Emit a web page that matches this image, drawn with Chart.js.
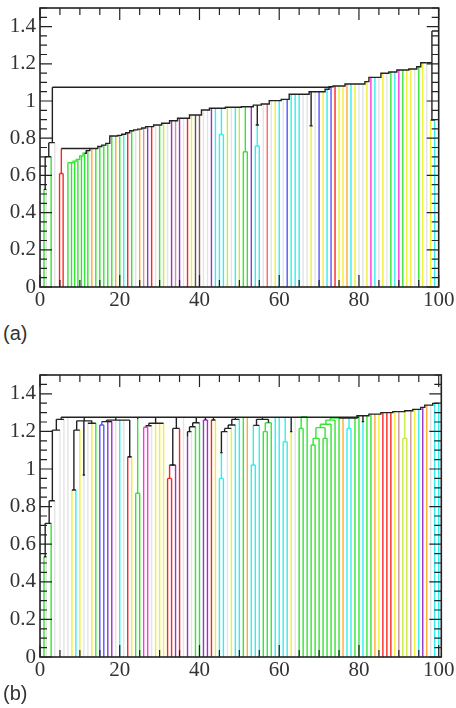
<!DOCTYPE html>
<html><head><meta charset="utf-8">
<script src="https://cdn.jsdelivr.net/npm/chart.js@4.4.0/dist/chart.umd.min.js"></script>
<style>
body{margin:0;background:#fff;width:456px;height:708px;overflow:hidden;position:relative;}
canvas{position:absolute;left:0;}
#ca{top:0;}
#cb{top:360px;}
.lab{position:absolute;left:3px;font-family:'Liberation Sans',Arial,sans-serif;font-size:20px;color:#333;line-height:23px;}
</style></head><body>
<canvas id="ca" width="456" height="322"></canvas>
<canvas id="cb" width="456" height="348"></canvas>
<div class="lab" style="top:322px">(a)</div>
<div class="lab" style="top:682px">(b)</div>
<script>
// ---------- shared axis data ----------
const xLabelVals = [0, 20, 40, 60, 80, 100];
const yLabelVals = [0, 0.2, 0.4, 0.6, 0.8, 1, 1.2, 1.4];

const PAL = {g:'#33e633', lg:'#e4e4e4', r:'#ff2424', sr:'#ff6666', o:'#ffaa33', c:'#33eeee',
  y:'#f0f032', yg:'#c8ec3c', p:'#9933cc', rb:'#cc9999', br:'#8a5a5a', dg:'#555555',
  b:'#5555ff', m:'#ff33dd', K:'#222222'};

// ---------- panel (a) ----------
const leafXA = [1,1.6,2.8,3.7,4.9,5.8,7,7.9,8.7,9.5,10.4,11.2,12,13,14,15,16,17,18,19,20,21,22,23,24,25,26,27,28,29,30,31,32,33,34,35,36,37,38,39,40,41,42,43,44,45,46,47,48,49,50,51,52,53,54,55,56,57,58,59,60,61,62,63,64,65,66,67,68,69,70,71,72,73,74,75,76,77,78,79,80,81,82,83,84,85,86,87,88,89,90,91,92,93,94,95,96,97,98,99];
const leafColorA = ['g','lg','g','lg','r','r','g','g','g','g','g','g','g',
 'o','g','g','g','g','g','o','g','c','r','g','lg','o','rb','p','r','lg','g','yg','lg','p','rb','p','lg','r','y','dg','br','lg','lg','p','c','c','c','yg','lg','c','yg','g','g','p','c','c','lg','sr','lg','y','c','lg','b','c','c','c','lg','lg','y','lg','b','y','c','b','r','y','y','o','c','y','lg','lg','y','m','c','lg','y','lg','g','c','m','g','y','y','lg','g','y','lg','y','c'];
const leafTopA = [0.525,0.525,0.70,0.776,0.61,0.61,0.668,0.668,0.677,0.686,0.704,0.719,0.733,
 0.745,0.745,0.755,0.763,0.772,0.812,0.812,0.815,0.821,0.829,0.84,0.845,0.849,0.855,0.862,0.862,0.871,0.871,0.88,0.88,0.894,0.894,0.907,0.907,0.907,0.925,0.925,0.925,0.952,0.952,0.961,0.961,0.82,0.82,0.966,0.966,0.966,0.966,0.727,0.727,0.969,0.758,0.758,0.984,0.984,1.002,1.002,1.002,1.009,1.009,1.036,1.036,1.036,1.036,1.036,0.866,1.05,1.05,1.05,1.063,1.077,1.081,1.081,1.081,1.091,1.091,1.091,1.091,1.091,1.104,1.127,1.127,1.127,1.149,1.149,1.156,1.156,1.167,1.167,1.167,1.172,1.172,1.184,1.206,1.206,0.898,0.898];
const stairXA = [7,7.9,8.7,9.5,10.4,11.2,12,13,14,15,16,17,18,19,20,21,22,23,24,25,26,27,28,29,30,31,32,33,34,35,36,37,38,39,40,41,42,43,44,45,46,47,48,49,50,51,52,53,54,55,56,57,58,59,60,61,62,63,64,65,66,67,68,69,70,71,72,73,74,75,76,77,78,79,80,81,82,83,84,85,86,87,88,89,90,91,92,93,94,95,96,97];
const stairYA = [0.668,0.668,0.677,0.686,0.704,0.719,0.733,0.745,0.745,0.755,0.763,0.772,0.812,0.812,0.815,0.821,0.829,0.84,0.845,0.849,0.855,0.862,0.862,0.871,0.871,0.88,0.88,0.894,0.894,0.907,0.907,0.907,0.925,0.925,0.925,0.952,0.952,0.961,0.961,0.961,0.961,0.966,0.966,0.966,0.966,0.969,0.969,0.969,0.978,0.978,0.984,0.984,1.002,1.002,1.002,1.009,1.009,1.036,1.036,1.036,1.036,1.036,1.05,1.05,1.05,1.05,1.063,1.077,1.081,1.081,1.081,1.091,1.091,1.091,1.091,1.091,1.104,1.127,1.127,1.127,1.149,1.149,1.156,1.156,1.167,1.167,1.167,1.172,1.172,1.184,1.206,1.206];
const stairGreenEndA = 11.2;
const linksA = [
 [1.0,0.525,1.6,0.525,'K'],[1.3,0.525,1.3,0.70,'K'],[1.3,0.70,2.8,0.70,'K'],
 [2.2,0.70,2.2,0.776,'K'],[2.2,0.776,3.7,0.776,'K'],[3.1,0.776,3.1,1.074,'K'],
 [3.1,1.074,73,1.074,'K'],
 [4.9,0.61,5.8,0.61,'r'],[5.35,0.61,5.35,0.745,'r'],[5.35,0.745,12.5,0.745,'K'],
 [45,0.82,46,0.82,'c'],[45.5,0.82,45.5,0.961,'c'],
 [51,0.727,52,0.727,'g'],[51.5,0.727,51.5,0.969,'g'],
 [54,0.758,55,0.758,'c'],[54.5,0.758,54.5,0.871,'c'],[54.5,0.871,54.5,0.978,'K'],[54.1,0.871,54.9,0.871,'K'],
 [68,0.866,68,1.05,'K'],[67.6,0.866,68.4,0.866,'K'],
 [97,1.206,98.3,1.206,'K'],[98,0.898,99,0.898,'K'],[98.3,0.898,98.3,1.376,'K'],[98.3,1.376,100,1.376,'K']
];

// ---------- panel (b) ----------
const leafXB = [1,1.6,2.8,3.7,5,6,7,8,9,10,11,12,13,14,15,16,17,18,19,20,21,22,23,24,25,26,27,28,29,30,31,32,33,34,35,36,37,38,39,40,41,42,43,44,45,46,47,48,49,50,51,52,53,54,55,56,57,58,59,60,61,62,63,64,65,66,67,68,69,70,71,72,73,74,75,76,77,78,79,80,81,82,83,84,85,86,87,88,89,90,91,92,93,94,95,96,97,98,99,100];
const leafColorB = ['g','lg','g','lg','lg','lg','lg','y','c','y','lg','lg','y','g','b','b','p','p','lg','c','lg','r','y','g','g','m','m','lg','y','y','y','r','r','p','r','lg','p','lg','g','g','p','p','r','y','c','c','lg','y','c','c','g','o','c','c','c','g','g','g','c','c','c','c','y','lg','g','g','g','g','g','g','g','g','g','g','g','o','c','c','g','g','c','g','g','o','y','r','r','r','y','rb','yg','yg','rb','y','c','p','o','lg','c','c'];
const leafTopB = [0.533,0.533,0.711,0.831,1.207,1.264,1.275,0.888,0.888,1.207,0.968,1.243,1.243,1.243,1.234,1.234,1.252,1.252,1.26,1.26,1.26,1.065,1.065,0.871,0.871,1.222,1.222,1.23,1.243,1.243,1.243,0.95,0.95,1.021,1.216,1.275,1.172,1.199,1.225,1.246,1.261,1.261,1.261,1.261,0.95,0.95,1.199,1.216,1.234,1.264,1.275,1.275,1.021,1.021,1.232,1.199,1.199,1.246,1.275,1.275,1.145,1.145,1.199,1.275,1.216,1.216,1.278,1.128,1.128,1.163,1.163,1.163,1.238,1.26,1.271,1.271,1.216,1.216,1.271,1.283,1.252,1.283,1.292,1.292,1.292,1.30,1.30,1.30,1.305,1.305,1.163,1.163,1.31,1.317,1.317,1.328,1.34,1.34,1.349,1.349];
const stairXB = [75,76,77,78,79,80,81,82,83,84,85,86,87,88,89,90,91,92,93,94,95,96,97,98,99,100];
const stairYB = [1.271,1.271,1.271,1.271,1.271,1.283,1.283,1.283,1.292,1.292,1.292,1.30,1.30,1.30,1.305,1.305,1.305,1.31,1.31,1.317,1.317,1.328,1.34,1.34,1.349,1.349];
const stairGreenEndB = 0;
const linksB = [
 [1.0,0.533,1.6,0.533,'K'],[1.3,0.533,1.3,0.711,'K'],[1.3,0.711,2.8,0.711,'K'],
 [2.3,0.711,2.3,0.831,'K'],[2.3,0.831,3.7,0.831,'K'],[3.1,0.831,3.1,1.207,'K'],
 [3.1,1.207,5,1.207,'K'],[4.1,1.207,4.1,1.264,'K'],[4.1,1.264,6,1.264,'K'],[5.3,1.264,5.3,1.275,'K'],
 [5.3,1.275,80,1.275,'K'],
 [8,0.888,9,0.888,'K'],[8.5,0.888,8.5,1.207,'K'],[8.5,1.207,10,1.207,'K'],[9.2,1.207,9.2,1.256,'K'],
 [11,0.968,11,1.256,'K'],[10.7,0.968,11.3,0.968,'K'],[12,1.243,14,1.243,'K'],[13,1.243,13,1.256,'K'],
 [9.2,1.256,13,1.256,'K'],[11.1,1.256,11.1,1.275,'K'],
 [15,1.234,16,1.234,'b'],[15.5,1.234,15.5,1.252,'b'],[17,1.252,18,1.252,'p'],[15.5,1.252,18,1.252,'K'],
 [16.7,1.252,16.7,1.26,'K'],[16.7,1.26,22.5,1.26,'K'],[19,1.26,19,1.275,'K'],
 [22,1.065,23,1.065,'K'],[22.5,1.065,22.5,1.26,'K'],[22.2,1.065,22.8,1.065,'K'],
 [24,0.871,25,0.871,'g'],[24.5,0.871,24.5,1.264,'g'],[24.5,1.264,24.5,1.275,'K'],
 [26,1.222,27,1.222,'m'],[26.5,1.222,26.5,1.23,'m'],[26.5,1.23,28,1.23,'K'],[27.3,1.23,27.3,1.243,'K'],
 [27.3,1.243,31,1.243,'K'],[29,1.243,29,1.275,'K'],
 [32,0.95,33,0.95,'r'],[32.5,0.95,32.5,1.021,'r'],[32.5,1.021,34,1.021,'K'],[33.3,1.021,33.3,1.216,'K'],
 [33,1.021,33.6,1.021,'K'],[33.3,1.216,35,1.216,'K'],[34.2,1.216,34.2,1.275,'K'],
 [37,1.172,37,1.199,'K'],[37,1.199,38,1.199,'K'],[37.5,1.199,37.5,1.225,'K'],[37.5,1.225,39,1.225,'K'],
 [38.3,1.225,38.3,1.246,'K'],[38.3,1.246,40,1.246,'K'],[39.2,1.246,39.2,1.275,'K'],
 [41,1.261,42,1.261,'p'],[41.5,1.261,41.5,1.275,'K'],
 [43,1.261,44,1.261,'K'],[43.5,1.261,43.5,1.275,'K'],
 [45,0.95,46,0.95,'c'],[45.5,0.95,45.5,1.087,'c'],[45.5,1.087,45.5,1.199,'K'],[45.2,1.087,45.8,1.087,'K'],
 [45.5,1.199,47,1.199,'K'],[46.3,1.199,46.3,1.216,'K'],[46.3,1.216,48,1.216,'K'],[47.2,1.216,47.2,1.234,'K'],
 [47.2,1.234,49,1.234,'K'],[48.1,1.234,48.1,1.264,'K'],[48.1,1.264,50,1.264,'K'],[49,1.264,49,1.275,'K'],
 [53,1.021,54,1.021,'c'],[53.5,1.021,53.5,1.232,'c'],[53.5,1.232,55,1.232,'K'],[54.3,1.232,54.3,1.264,'K'],
 [56,1.199,57,1.199,'g'],[56.5,1.199,56.5,1.246,'g'],[56.5,1.246,58,1.246,'g'],[57.3,1.246,57.3,1.264,'K'],
 [54.3,1.264,57.3,1.264,'K'],[55.8,1.264,55.8,1.275,'K'],
 [61,1.145,62,1.145,'c'],[61.5,1.145,61.5,1.275,'c'],
 [63,1.199,63,1.275,'K'],[62.7,1.199,63.3,1.199,'K'],
 [65,1.216,66,1.216,'g'],[65.5,1.216,65.5,1.278,'g'],[65.5,1.278,67,1.278,'g'],
 [68,1.128,69,1.128,'g'],[68.5,1.128,68.5,1.163,'g'],[68.5,1.163,70,1.163,'g'],[69.2,1.163,69.2,1.22,'g'],
 [71,1.163,72,1.163,'g'],[71.5,1.163,71.5,1.22,'g'],[69.2,1.22,71.5,1.22,'g'],[70.3,1.22,70.3,1.238,'g'],
 [70.3,1.238,73,1.238,'g'],[71.7,1.238,71.7,1.26,'g'],[71.7,1.26,74,1.26,'g'],[72.8,1.26,72.8,1.271,'g'],
 [72.8,1.271,75,1.271,'g'],
 [77,1.216,78,1.216,'c'],[77.5,1.216,77.5,1.271,'c'],
 [81,1.252,81,1.283,'K'],[80.7,1.252,81.3,1.252,'K'],
 [91,1.163,92,1.163,'yg'],[91.5,1.163,91.5,1.305,'yg']
];

// ---------- drawing ----------
const frameTicks = {
  id: 'frameTicks',
  afterDatasetsDraw(chart, args, opts) {
    const {ctx, chartArea: {left, right, top, bottom}, scales: {x, y}} = chart;
    ctx.save();
    ctx.strokeStyle = '#222';
    ctx.lineWidth = 1.2;
    ctx.beginPath();
    for (let k = 0; k <= 20; k++) {
      const p = x.getPixelForValue(k * 5);
      const L = (k % 4 === 0) ? 12 : 7;
      ctx.moveTo(p, bottom); ctx.lineTo(p, bottom - L);
      ctx.moveTo(p, top); ctx.lineTo(p, top + L);
    }
    for (let k = 0; k <= 30; k++) {
      const p = y.getPixelForValue(k * 0.05);
      const L = (k % 4 === 0) ? 12 : 7;
      ctx.moveTo(left, p); ctx.lineTo(left + L, p);
      ctx.moveTo(right, p); ctx.lineTo(right - L, p);
    }
    ctx.stroke();
    ctx.lineWidth = 1.6;
    ctx.strokeRect(left, top, right - left, bottom - top);
    ctx.restore();
  }
};

function build(id, cfg) {
  const ds = [];
  cfg.leafX.forEach((x, i) => {
    ds.push({data: [{x: x, y: 0}, {x: x, y: cfg.leafTop[i]}], borderColor: PAL[cfg.leafColor[i]], borderWidth: 1.4, order: 3});
  });
  cfg.links.forEach(s => {
    ds.push({data: [{x: s[0], y: s[1]}, {x: s[2], y: s[3]}], borderColor: PAL[s[4]], borderWidth: 1.4, order: s[4] === 'K' ? 1 : 2});
  });
  ds.push({
    data: cfg.stairX.map((x, i) => ({x: x, y: cfg.stairY[i]})),
    stepped: 'middle', borderColor: PAL.K, borderWidth: 1.4, order: 0,
    segment: {borderColor: c => (cfg.stairX[c.p0DataIndex] < cfg.greenEnd ? PAL.g : PAL.K)}
  });
  const tickFont = {family: "'Liberation Serif','Times New Roman',serif", size: 21};
  new Chart(document.getElementById(id), {
    type: 'line',
    data: {datasets: ds},
    options: {
      responsive: false, animation: false, events: [],
      plugins: {legend: {display: false}, tooltip: {enabled: false}},
      elements: {point: {radius: 0}, line: {tension: 0, borderCapStyle: 'butt'}},
      layout: {padding: {left: 0, right: cfg.padRight, top: cfg.padTop, bottom: 0}},
      scales: {
        x: {
          type: 'linear', min: 0, max: cfg.xMax,
          grid: {display: false, drawTicks: false}, border: {display: false},
          afterBuildTicks: s => { s.ticks = xLabelVals.map(v => ({value: v})); },
          afterFit: s => { s.height = cfg.xAxisH; s.paddingLeft = 0; s.paddingRight = 0; },
          ticks: {padding: 1, color: '#333', font: tickFont, maxRotation: 0, autoSkip: false,
                  callback: v => String(v)}
        },
        y: {
          type: 'linear', min: 0, max: 1.5,
          grid: {display: false, drawTicks: false}, border: {display: false},
          afterBuildTicks: s => { s.ticks = yLabelVals.map(v => ({value: v})); },
          afterFit: s => { s.width = 40; s.paddingTop = 0; s.paddingBottom = 0; },
          ticks: {padding: 4, color: '#333', font: tickFont, autoSkip: false,
                  callback: v => String(Math.round(v * 10) / 10)}
        }
      }
    },
    plugins: [frameTicks]
  });
}

build('ca', {leafX: leafXA, leafTop: leafTopA, leafColor: leafColorA, links: linksA,
  stairX: stairXA, stairY: stairYA, greenEnd: stairGreenEndA,
  xMax: 100, padRight: 17.3, padTop: 8, xAxisH: 35});
build('cb', {leafX: leafXB, leafTop: leafTopB, leafColor: leafColorB, links: linksB,
  stairX: stairXB, stairY: stairYB, greenEnd: stairGreenEndB,
  xMax: 100.65, padRight: 14.7, padTop: 15, xAxisH: 51});
</script>
</body></html>
